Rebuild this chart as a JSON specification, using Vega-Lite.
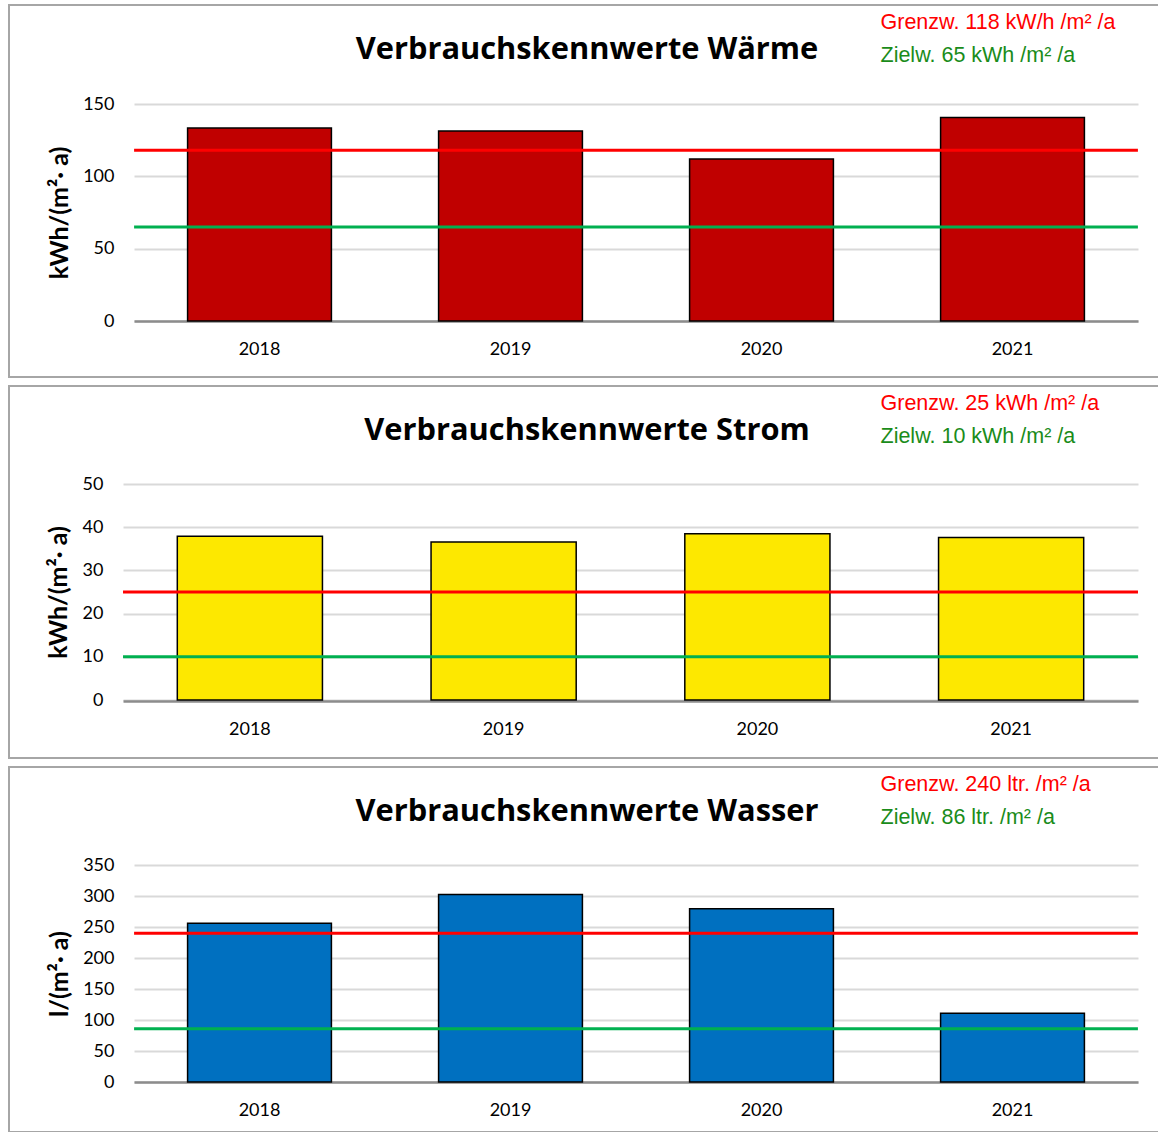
{
  "$schema": "https://vega.github.io/schema/vega-lite/v6.json",
  "padding": {"left": 8, "top": 4, "right": 0, "bottom": 0},
  "background": "white",
  "spacing": 7,
  "config": {
    "view": {"stroke": "#a6a6a6", "strokeWidth": 2, "fill": "white"},
    "axis": {"labelFont": "Lato", "labelFontSize": 18, "labelColor": "#000000", "titleFont": "Lato", "titleFontSize": 25, "titleFontWeight": "bold", "titleColor": "#000000", "ticks": false, "tickSize": 0, "gridColor": "#d9d9d9", "gridWidth": 2, "domainColor": "#8c8c8c", "domainWidth": 2.5},
    "title": {"font": "Open Sans", "fontSize": 30.8, "fontWeight": "bold", "color": "#000000"},
    "legend": {"title": null, "orient": "none", "symbolSize": 0, "symbolOpacity": 0, "symbolStrokeWidth": 0, "labelOffset": 0, "labelFont": "Liberation Sans", "labelFontSize": 21.5, "rowPadding": 10, "padding": 0, "labelLimit": 400}
  },
  "resolve": {"scale": {"color": "independent"}},
  "vconcat": [
    {
      "width": 1150, "height": 372,
      "title": {"text": "Verbrauchskennwerte Wärme", "anchor": "middle", "frame": "group", "offset": -85, "baseline": "alphabetic", "dx": 3},
      "layer": [
        {
          "data": {"values": [{"Jahr": "2018", "Wert": 133.4}, {"Jahr": "2019", "Wert": 131.4}, {"Jahr": "2020", "Wert": 111.9}, {"Jahr": "2021", "Wert": 140.7}]},
          "mark": {"type": "bar", "fill": "#c00000", "stroke": "#000000", "strokeWidth": 1.5},
          "encoding": {
            "x": {"field": "Jahr", "type": "nominal", "scale": {"range": [125, 1129], "paddingInner": 0.427, "paddingOuter": 0.2135}, "axis": {"title": null, "labelAngle": 0, "offset": -56, "labelPadding": 19, "domain": true, "grid": false}},
            "y": {"field": "Wert", "type": "quantitative", "scale": {"domain": [0, 150], "range": [316, 99], "nice": false}, "axis": {"title": "kWh/(m²· a)", "values": [0, 50, 100, 150], "offset": -125, "labelPadding": 20, "domain": false, "grid": true, "titleX": -75, "titleBaseline": "middle"}}
          }
        },
        {
          "data": {"values": [{"Grenze": "Grenzw. 118 kW/h /m² /a", "Wert": 118}, {"Grenze": "Zielw. 65 kWh /m² /a", "Wert": 65}]},
          "mark": {"type": "rule", "strokeWidth": 3},
          "encoding": {
            "x": {"datum": "2018", "type": "nominal", "bandPosition": -0.372},
            "x2": {"datum": "2021", "bandPosition": 1.372},
            "y": {"field": "Wert", "type": "quantitative"},
            "color": {"field": "Grenze", "type": "nominal", "sort": null, "scale": {"domain": ["Grenzw. 118 kW/h /m² /a", "Zielw. 65 kWh /m² /a"], "range": ["#ff0000", "#00b050"]}, "legend": {"legendX": 850, "legendY": 7, "encode": {"labels": {"update": {"fill": {"signal": "indexof(datum.label, 'Grenzw') === 0 ? '#ff0000' : '#1a8c1a'"}}}}}}
          }
        }
      ]
    },
    {
      "width": 1150, "height": 372,
      "title": {"text": "Verbrauchskennwerte Strom", "anchor": "middle", "frame": "group", "offset": -85, "baseline": "alphabetic", "dx": 3},
      "layer": [
        {
          "data": {"values": [{"Jahr": "2018", "Wert": 37.9}, {"Jahr": "2019", "Wert": 36.6}, {"Jahr": "2020", "Wert": 38.5}, {"Jahr": "2021", "Wert": 37.6}]},
          "mark": {"type": "bar", "fill": "#fde800", "stroke": "#000000", "strokeWidth": 1.5},
          "encoding": {
            "x": {"field": "Jahr", "type": "nominal", "scale": {"range": [114, 1129], "paddingInner": 0.428, "paddingOuter": 0.214}, "axis": {"title": null, "labelAngle": 0, "offset": -57, "labelPadding": 19, "domain": true, "grid": false}},
            "y": {"field": "Wert", "type": "quantitative", "scale": {"domain": [0, 50], "range": [314, 98], "nice": false}, "axis": {"title": "kWh/(m²· a)", "values": [0, 10, 20, 30, 40, 50], "offset": -114, "labelPadding": 20, "domain": false, "grid": true, "titleX": -64.5, "titleBaseline": "middle"}}
          }
        },
        {
          "data": {"values": [{"Grenze": "Grenzw. 25 kWh /m² /a", "Wert": 25}, {"Grenze": "Zielw. 10 kWh /m² /a", "Wert": 10}]},
          "mark": {"type": "rule", "strokeWidth": 3},
          "encoding": {
            "x": {"datum": "2018", "type": "nominal", "bandPosition": -0.374},
            "x2": {"datum": "2021", "bandPosition": 1.374},
            "y": {"field": "Wert", "type": "quantitative"},
            "color": {"field": "Grenze", "type": "nominal", "sort": null, "scale": {"domain": ["Grenzw. 25 kWh /m² /a", "Zielw. 10 kWh /m² /a"], "range": ["#ff0000", "#00b050"]}, "legend": {"legendX": 850, "legendY": 7, "encode": {"labels": {"update": {"fill": {"signal": "indexof(datum.label, 'Grenzw') === 0 ? '#ff0000' : '#1a8c1a'"}}}}}}
          }
        }
      ]
    },
    {
      "width": 1150, "height": 365,
      "title": {"text": "Verbrauchskennwerte Wasser", "anchor": "middle", "frame": "group", "offset": -85, "baseline": "alphabetic", "dx": 3},
      "layer": [
        {
          "data": {"values": [{"Jahr": "2018", "Wert": 256}, {"Jahr": "2019", "Wert": 302.6}, {"Jahr": "2020", "Wert": 279.4}, {"Jahr": "2021", "Wert": 110.8}]},
          "mark": {"type": "bar", "fill": "#0070c0", "stroke": "#000000", "strokeWidth": 1.5},
          "encoding": {
            "x": {"field": "Jahr", "type": "nominal", "scale": {"range": [125, 1129], "paddingInner": 0.427, "paddingOuter": 0.2135}, "axis": {"title": null, "labelAngle": 0, "offset": -50, "labelPadding": 19, "domain": true, "grid": false}},
            "y": {"field": "Wert", "type": "quantitative", "scale": {"domain": [0, 350], "range": [315, 98], "nice": false}, "axis": {"title": "l/(m²· a)", "values": [0, 50, 100, 150, 200, 250, 300, 350], "offset": -125, "labelPadding": 20, "domain": false, "grid": true, "titleX": -74.5, "titleBaseline": "middle"}}
          }
        },
        {
          "data": {"values": [{"Grenze": "Grenzw. 240 ltr. /m² /a", "Wert": 240}, {"Grenze": "Zielw. 86 ltr. /m² /a", "Wert": 86}]},
          "mark": {"type": "rule", "strokeWidth": 3},
          "encoding": {
            "x": {"datum": "2018", "type": "nominal", "bandPosition": -0.372},
            "x2": {"datum": "2021", "bandPosition": 1.372},
            "y": {"field": "Wert", "type": "quantitative"},
            "color": {"field": "Grenze", "type": "nominal", "sort": null, "scale": {"domain": ["Grenzw. 240 ltr. /m² /a", "Zielw. 86 ltr. /m² /a"], "range": ["#ff0000", "#00b050"]}, "legend": {"legendX": 850, "legendY": 7, "encode": {"labels": {"update": {"fill": {"signal": "indexof(datum.label, 'Grenzw') === 0 ? '#ff0000' : '#1a8c1a'"}}}}}}
          }
        }
      ]
    }
  ]
}
